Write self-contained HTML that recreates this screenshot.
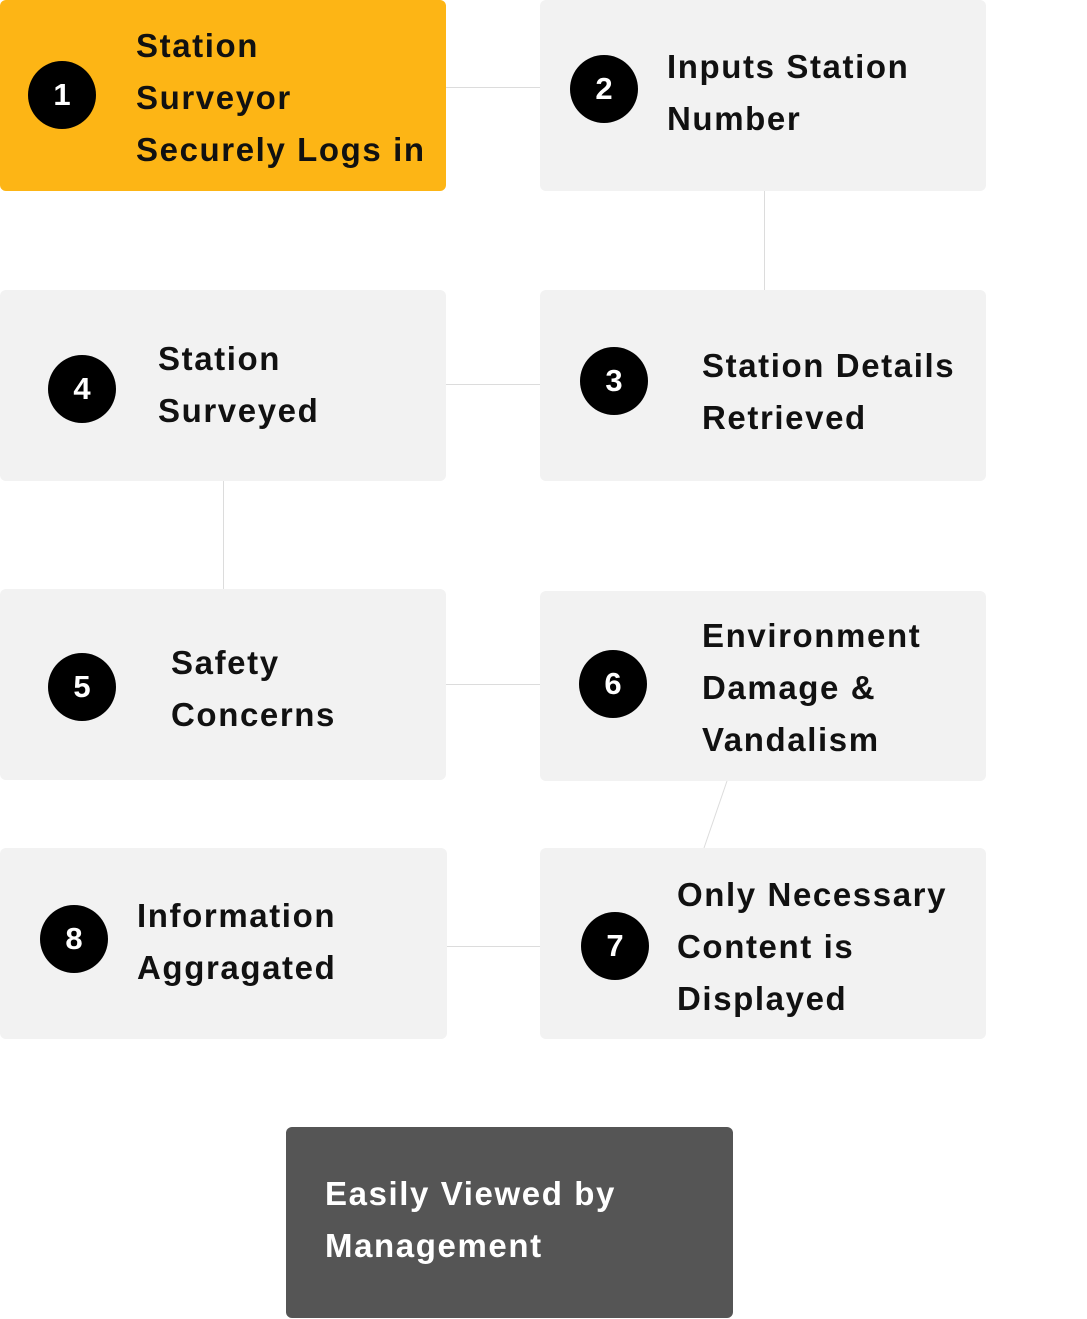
<!DOCTYPE html>
<html><head><meta charset="utf-8"><style>
html,body{margin:0;padding:0;background:#fff;}
body{width:1087px;height:1319px;position:relative;overflow:hidden;font-family:"Liberation Sans",sans-serif;}
.box{position:absolute;background:#f2f2f2;border-radius:6px;}
.c{position:absolute;width:68px;height:68px;border-radius:50%;background:#000;color:#fff;font-weight:bold;font-size:31px;line-height:68px;text-align:center;}
.t{position:absolute;font-weight:bold;font-size:33px;letter-spacing:1.6px;line-height:52px;color:#111;white-space:nowrap;}
.l{position:absolute;background:#dcdcdc;}
</style></head><body>
<div class="l" style="left:446px;top:87px;width:94px;height:1px"></div>
<div class="l" style="left:764px;top:191px;width:1px;height:99px"></div>
<div class="l" style="left:446px;top:384px;width:94px;height:1px"></div>
<div class="l" style="left:223px;top:481px;width:1px;height:108px"></div>
<div class="l" style="left:446px;top:684px;width:94px;height:1px"></div>
<svg style="position:absolute;left:0;top:0" width="1087" height="1319"><line x1="727" y1="781" x2="704" y2="848" stroke="#dcdcdc" stroke-width="1"/></svg>
<div class="l" style="left:447px;top:946px;width:93px;height:1px"></div>

<div class="box" style="left:0;top:0;width:446px;height:191px;background:#fdb515"></div>
<div class="c" style="left:28px;top:61px">1</div>
<div class="t" style="left:136px;top:20px">Station<br>Surveyor<br>Securely Logs in</div>

<div class="box" style="left:540px;top:0;width:446px;height:191px"></div>
<div class="c" style="left:570px;top:55px">2</div>
<div class="t" style="left:667px;top:41px">Inputs Station<br>Number</div>

<div class="box" style="left:0;top:290px;width:446px;height:191px"></div>
<div class="c" style="left:48px;top:355px">4</div>
<div class="t" style="left:158px;top:333px">Station<br>Surveyed</div>

<div class="box" style="left:540px;top:290px;width:446px;height:191px"></div>
<div class="c" style="left:580px;top:347px">3</div>
<div class="t" style="left:702px;top:340px">Station Details<br>Retrieved</div>

<div class="box" style="left:0;top:589px;width:446px;height:191px"></div>
<div class="c" style="left:48px;top:653px">5</div>
<div class="t" style="left:171px;top:637px">Safety<br>Concerns</div>

<div class="box" style="left:540px;top:591px;width:446px;height:190px"></div>
<div class="c" style="left:579px;top:650px">6</div>
<div class="t" style="left:702px;top:610px">Environment<br>Damage &amp;<br>Vandalism</div>

<div class="box" style="left:0;top:848px;width:447px;height:191px"></div>
<div class="c" style="left:40px;top:905px">8</div>
<div class="t" style="left:137px;top:890px">Information<br>Aggragated</div>

<div class="box" style="left:540px;top:848px;width:446px;height:191px"></div>
<div class="c" style="left:581px;top:912px">7</div>
<div class="t" style="left:677px;top:869px">Only Necessary<br>Content is<br>Displayed</div>

<div class="box" style="left:286px;top:1127px;width:447px;height:191px;background:#555"></div>
<div class="t" style="left:325px;top:1168px;color:#fff">Easily Viewed by<br>Management</div>
</body></html>
